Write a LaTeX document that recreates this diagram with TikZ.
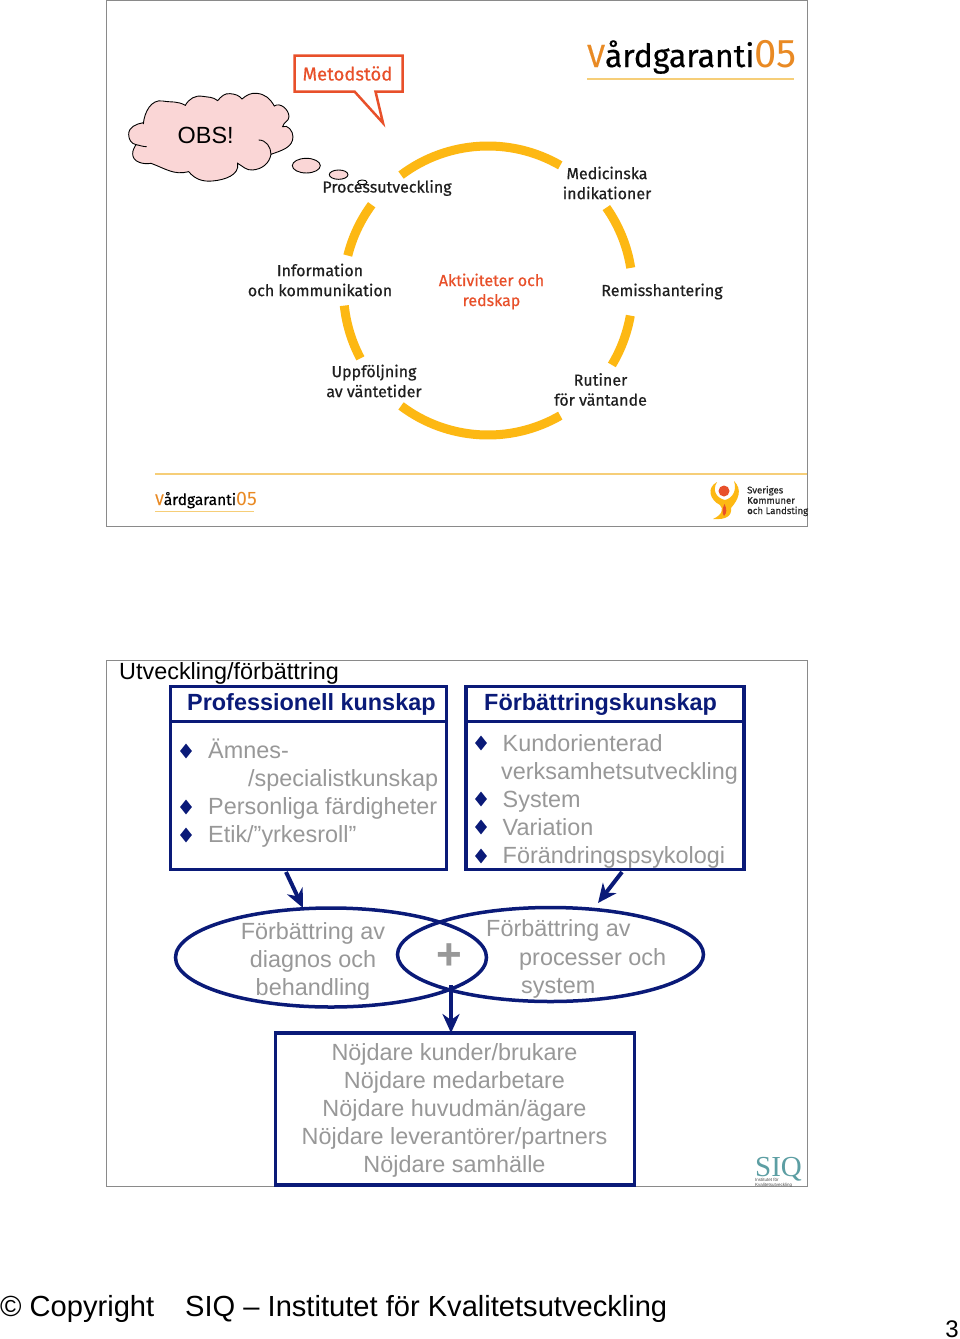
\documentclass[tikz,border=0pt]{standalone}
\usepackage{fontspec}
\setmainfont{Liberation Sans}
\newfontfamily\logofont[FakeBold=0.5]{Fira Sans}
\newfontfamily\logofontlight{Fira Sans}
\newfontfamily\seriffont{Liberation Serif}
\usetikzlibrary{shapes.geometric,arrows.meta}
\definecolor{navy}{HTML}{0A1A78}
\definecolor{greytext}{HTML}{989898}
\definecolor{framegrey}{HTML}{8A8A8A}
\definecolor{ringorange}{HTML}{FDB813}
\definecolor{redorange}{HTML}{E8502A}
\definecolor{logoorange}{HTML}{E98A24}
\definecolor{logoline}{HTML}{F6CE78}
\definecolor{cloudpink}{HTML}{FAD6D6}
\definecolor{siqteal}{HTML}{5C9EA3}
\tikzset{
  frame/.style={draw=framegrey,line width=1pt},
  ringarc/.style={draw=ringorange,line width=9pt},
  lab/.style={font=\logofont\fontsize{16}{20}\selectfont,align=center,text=black!88,inner sep=0pt},
  redlab/.style={lab,text=redorange},
  navybox/.style={draw=navy,line width=3.5pt,outer sep=0pt},
  head/.style={font=\bfseries\fontsize{23.4}{28}\selectfont,text=navy,inner sep=0pt,anchor=base west},
  bodytxt/.style={font=\fontsize{23.4}{28}\selectfont,text=greytext,inner sep=0pt,anchor=base west},
  bodyc/.style={font=\fontsize{23.4}{28}\selectfont,text=greytext,inner sep=0pt,align=center},
  bul/.style={diamond,fill=navy,inner sep=0pt,minimum width=12pt,minimum height=15pt},
  oval/.style={ellipse,draw=navy,line width=3.5pt,inner sep=0pt,outer sep=0pt},
  flow/.style={draw=navy,line width=4pt,-{Stealth[length=19pt,width=17pt,inset=6pt]}},
  cloudline/.style={draw=black,line width=.9pt,fill=cloudpink},
  foot/.style={font=\fontsize{29.1}{32}\selectfont,text=black,inner sep=0pt,anchor=base west}
}
\begin{document}
\begin{tikzpicture}[x=1pt,y=-1pt]
\useasboundingbox (0,0) rectangle (960,1339);
\fill[white] (0,0) rectangle (960,1339);
% slide frames
\draw[frame] (106.5,0.5) rectangle (807.5,526);
\draw[frame] (106.5,660) rectangle (807.5,1186);
% ring
\coordinate (c) at (488,290.5);
\foreach \a/\b in {127/60,35/9,-10/-31,-60/-127,208/186,166/143.6}{
  \draw[ringarc] (c) ++(\a:144.5pt) arc[start angle=\a,end angle=\b,radius=144.5pt];
}
\node[lab] (proc) at (387,188) {Processutveckling};
\node[lab] (med) at (607,183) {Medicinska\\indikationer};
\node[lab] (rem) at (662,291.5) {Remisshantering};
\node[lab] (rut) at (600.5,389.5) {Rutiner\\för väntande};
\node[lab] (upp) at (374,381) {Uppföljning\\av väntetider};
\node[lab] (inf) at (320,280) {Information\\och kommunikation};
\node[redlab] (akt) at (491.5,291.5) {Aktiviteter och\\redskap};
% Metodstod callout
\draw[draw=redorange,line width=2.5pt,fill=white,line join=miter]
  (294.5,55.5) -- (402.5,55.5) -- (402.5,91.5) -- (375.5,91.5) -- (383,123) -- (354.5,91.5) -- (294.5,91.5) -- cycle;
\node[redlab,font=\logofont\fontsize{18.5}{20}\selectfont] (met) at (347.5,73.5) {Metodstöd};
% cloud
\begin{scope}[shift={(106pt,0pt)},x=0.3333pt,y=-0.3333pt]
\draw[cloudline] (112,372) to[out=85,in=170] (170,303) to[out=-10,in=150] (238,316)
  to[out=60,in=170] (290,289) to[out=-10,in=140] (335,302)
  to[out=50,in=175] (372,281) to[out=-5,in=130] (408,297)
  to[out=40,in=175] (452,280) to[out=-5,in=120] (505,318)
  to[out=35,in=90] (549,350) to[out=-90,in=80] (530,380)
  to[out=25,in=90] (561,410) to[out=-90,in=20] (495,463)
  to[out=-100,in=5] (440,510) to[out=185,in=-30] (395,490)
  to[out=-80,in=5] (320,543) to[out=185,in=-50] (248,515)
  to[out=-165,in=-20] (135,490)
  to[out=190,in=-90] (80,462) to[out=90,in=-120] (90,434)
  to[out=170,in=-90] (68,403) to[out=90,in=190] (112,368) -- cycle;
\draw[draw=black,line width=.9pt] (458,420) to[out=0,in=90] (495,463);
\draw[draw=black,line width=.9pt] (90,434) to[out=-10,in=180] (122,440);
\node[font=\fontsize{23.4}{28}\selectfont,text=black,inner sep=0pt] (obs) at (299,405) {OBS!};
\fill[fill=cloudpink,draw=black,line width=.9pt] (601,497) circle[x radius=42,y radius=22];
\fill[fill=cloudpink,draw=black,line width=.9pt] (698,524) circle[x radius=28,y radius=14];
\fill[fill=white,draw=black,line width=.9pt] (769,547) circle[x radius=14,y radius=7];
\end{scope}
% top logo
\node[font=\logofont\fontsize{32}{40}\selectfont,inner sep=0pt,anchor=base west] (logo) at (587,67) {\textcolor{logoorange}{V}\textcolor{black}{årdgaranti}\textcolor{logoorange}{\logofontlight\fontsize{40}{40}\selectfont 05}};
\draw[logoline,line width=2pt] (587,79) -- (794,79);
% footer
\draw[logoline,line width=2pt] (155,473.5) -- (807,473.5);
\node[font=\logofont\fontsize{15.5}{20}\selectfont,inner sep=0pt,anchor=base west] (flogo) at (155,505) {\textcolor{logoorange}{V}\textcolor{black}{årdgaranti}\textcolor{logoorange}{\logofontlight\fontsize{19.5}{20}\selectfont 05}};
\draw[logoline,line width=1pt] (155,511) -- (254,511);
% SKL emblem
\fill[ringorange] (717,482) .. controls (706,488) and (710,500) .. (720,505) .. controls (724,509) and (722,515) .. (713,519) .. controls (726,520) and (732,516) .. (731,508) .. controls (738,500) and (743,490) .. (734,481) .. controls (737,490) and (733,498) .. (725,500) .. controls (716,498) and (712,490) .. (717,482) -- cycle;
\fill[redorange] (724,491) circle[radius=5.5pt];
\fill[redorange] (724.5,504) .. controls (722,509) and (722,513) .. (724,516) .. controls (727,513) and (727,509) .. (724.5,504) -- cycle;
\node[font=\logofont\fontsize{9.6}{10.3}\selectfont,inner sep=0pt,align=left,anchor=west,text=black!85] (skl) at (747,501) {Sveriges\\Kommuner\\och Landsting};
% lower slide
\node[font=\fontsize{23.4}{28}\selectfont,text=black,inner sep=0pt,anchor=base west] (title) at (119,679) {Utveckling/förbättring};
\node[navybox,minimum width=276pt,minimum height=183pt,anchor=north west,inner sep=0pt] (prof) at (170.5,686.5) {};
\node[navybox,minimum width=278pt,minimum height=183pt,anchor=north west,inner sep=0pt] (forb) at (466,686.5) {};
\draw[navybox,line width=3pt] (prof.west |- 0,721) -- (prof.east |- 0,721);
\draw[navybox,line width=3pt] (forb.west |- 0,721) -- (forb.east |- 0,721);
\node[head] (h1) at (187,710.5) {Professionell kunskap};
\node[head] (h2) at (484,710.5) {Förbättringskunskap};
\node[bul] (b1) at (186,751) {};
\node[bul] (b2) at (186,807) {};
\node[bul] (b3) at (186,835) {};
\node[bodytxt] (t1) at (208,758) {Ämnes-};
\node[bodytxt] (t2) at (248,786.5) {/specialistkunskap};
\node[bodytxt] (t3) at (208,814.5) {Personliga färdigheter};
\node[bodytxt] (t4) at (208,842.5) {Etik/”yrkesroll”};
\node[bul] (b4) at (481,743) {};
\node[bul] (b5) at (481,799) {};
\node[bul] (b6) at (481,827) {};
\node[bul] (b7) at (481,856) {};
\node[bodytxt] (u1) at (502.5,751) {Kundorienterad};
\node[bodytxt] (u2) at (501,779.5) {verksamhetsutveckling};
\node[bodytxt] (u3) at (502.5,807.5) {System};
\node[bodytxt] (u4) at (502.5,835.5) {Variation};
\node[bodytxt] (u5) at (502.5,863.5) {Förändringspsykologi};
% ovals
\node[oval,minimum width=311pt,minimum height=99pt] (ol) at (331,957.5) {};
\node[oval,minimum width=306pt,minimum height=94pt] (or) at (550.5,954.5) {};
\node[bodyc] (ot) at (313,961.5) {Förbättring av\\diagnos och\\behandling};
\node[bodytxt] (r1) at (486,936.5) {Förbättring av};
\node[bodytxt] (r2) at (519,965) {processer och};
\node[bodytxt] (r3) at (521,993) {system};
\node[font=\bfseries\fontsize{44}{44}\selectfont,text=greytext,inner sep=0pt] (plus) at (449.5,957) {+};
% result box
\node[navybox,minimum width=359pt,minimum height=152pt,inner sep=0pt,anchor=north west] (res) at (275.5,1033) {};
\node[bodyc] (rt) at (454.5,1110) {Nöjdare kunder/brukare\\Nöjdare medarbetare\\Nöjdare huvudmän/ägare\\Nöjdare leverantörer/partners\\Nöjdare samhälle};
% connectors
\coordinate (a1s) at (286,872);
\coordinate (a1e) at (303,908);
\coordinate (a2s) at (622,872);
\coordinate (a2e) at (598,903);
\coordinate (a3s) at (451,985);
\draw[flow] (a1s) -- (a1e);
\draw[flow] (a2s) -- (a2e);
\draw[flow] (a3s) -- (a3s |- res.north);
% SIQ logo
\node[font=\seriffont\fontsize{29}{32}\selectfont,text=siqteal,inner sep=0pt,anchor=base west] (siq) at (755,1176) {SIQ};
\node[font=\fontsize{4.5}{5}\selectfont,text=black!70,inner sep=0pt,align=left,anchor=north west] (siqs) at (755,1178.5) {Institutet för\\Kvalitetsutveckling};
% footer text
\node[foot] (cp) at (0,1316) {© Copyright};
\node[foot] (si) at (185,1316) {SIQ – Institutet för Kvalitetsutveckling};
\node[font=\fontsize{24}{28}\selectfont,text=black,inner sep=0pt,anchor=base east] (pg) at (959,1337) {3};
\end{tikzpicture}
\end{document}
